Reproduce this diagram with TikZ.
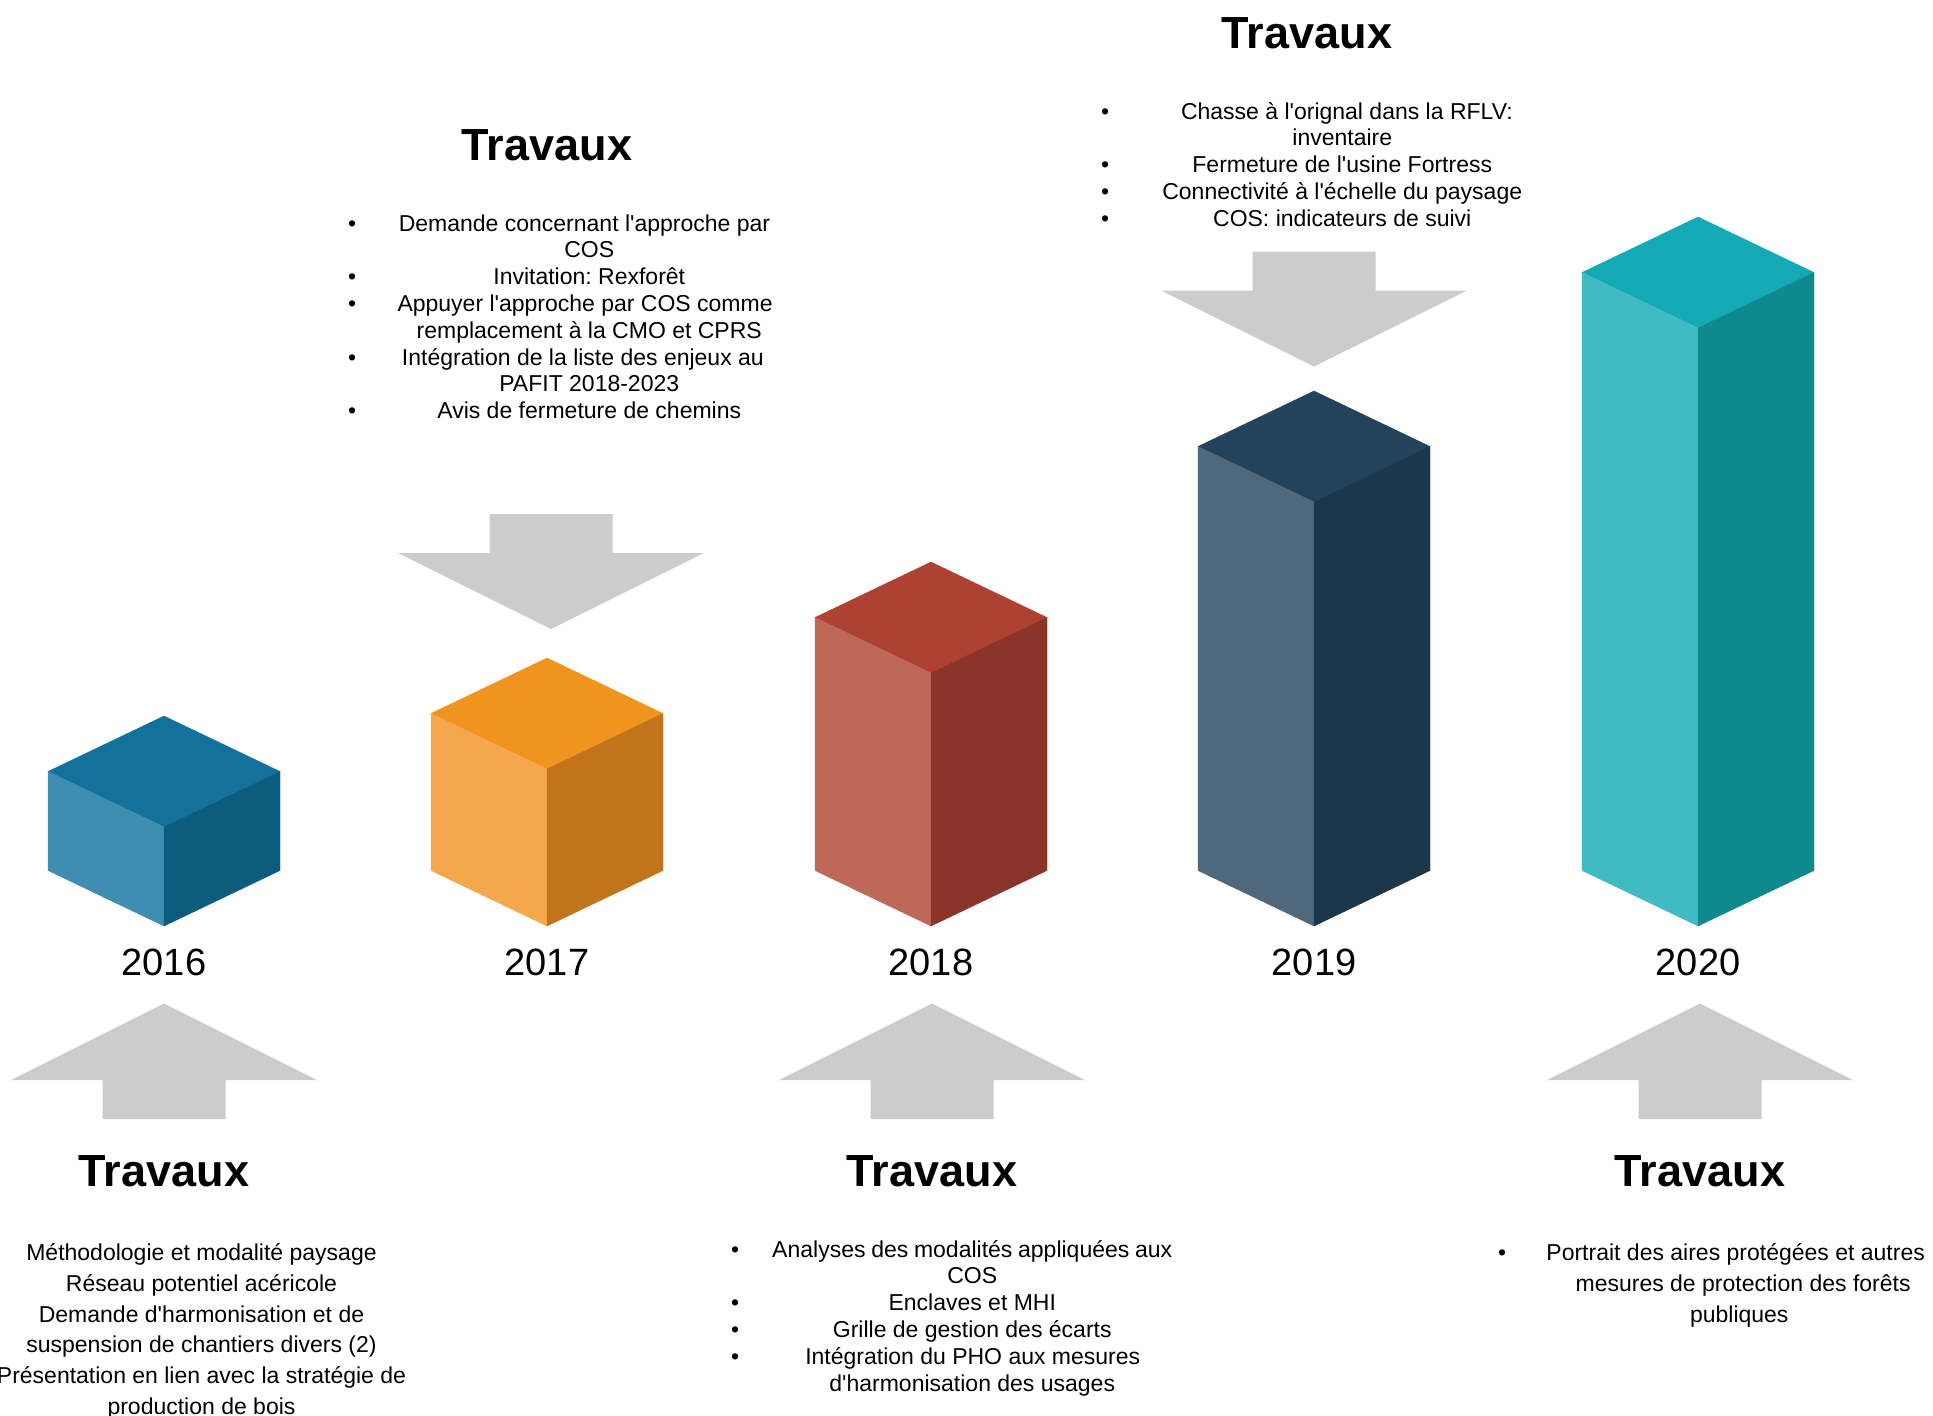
\documentclass[tikz,border=0pt]{standalone}
\usepackage{fontspec}
\setmainfont{Liberation Sans}
\usepackage{array}
\usepackage{xcolor}
\usepackage{tikz}

\definecolor{top2016}{HTML}{12729C}
\definecolor{left2016}{HTML}{3F8DB0}
\definecolor{right2016}{HTML}{0E5C7D}
\definecolor{top2017}{HTML}{F0931F}
\definecolor{left2017}{HTML}{F4A74B}
\definecolor{right2017}{HTML}{C2741A}
\definecolor{top2018}{HTML}{AE4132}
\definecolor{left2018}{HTML}{BE685A}
\definecolor{right2018}{HTML}{8B3429}
\definecolor{top2019}{HTML}{22435B}
\definecolor{left2019}{HTML}{4F687B}
\definecolor{right2019}{HTML}{1E3649}
\definecolor{top2020}{HTML}{14AAB5}
\definecolor{left2020}{HTML}{40BBC3}
\definecolor{right2020}{HTML}{0F898E}
\definecolor{arrowgray}{HTML}{CCCCCC}

\newcolumntype{C}{>{\centering\arraybackslash}p{400pt}}
\newcommand{\apos}{\textquotesingle}
\frenchspacing

\begin{document}
\begin{tikzpicture}[x=1pt, y=-1pt,
    year/.style={font=\fontsize{38}{44}\selectfont, anchor=base, inner sep=0pt},
    title/.style={font=\fontsize{45}{52}\selectfont\bfseries, anchor=base, inner sep=0pt},
    tlist/.style={font=\fontsize{23}{26.8}\selectfont, anchor=base west, inner sep=0pt},
    wlist/.style={font=\fontsize{23}{30.8}\selectfont, anchor=base west, inner sep=0pt},
    garrow/.style={fill=arrowgray}]
    \useasboundingbox[fill=white] (0,0) rectangle (1933,1416);

    % blocks: year / centre / top of the block
    \foreach \yr/\cx/\ty in {2016/164/716, 2017/547/658, 2018/931/562, 2019/1314/391, 2020/1698/217} {
      \filldraw[fill=top\yr, draw=top\yr, line width=0.4pt] (\cx,\ty) -- (\cx+116,\ty+55.5) -- (\cx,\ty+111) -- (\cx-116,\ty+55.5) -- cycle;
      \filldraw[fill=left\yr, draw=left\yr, line width=0.4pt] (\cx-116,\ty+55.5) -- (\cx,\ty+111) -- (\cx,926) -- (\cx-116,870.5) -- cycle;
      \filldraw[fill=right\yr, draw=right\yr, line width=0.4pt] (\cx,\ty+111) -- (\cx+116,\ty+55.5) -- (\cx+116,870.5) -- (\cx,926) -- cycle;
      \node[year] (y\yr) at (\cx,975) {\yr};
    }

    % arrows from above
    \foreach \cx/\ty in {551/514, 1314/251.5}
      \fill[garrow] (\cx-61.5,\ty) -- (\cx+61.5,\ty) -- (\cx+61.5,\ty+39) -- (\cx+153,\ty+39) -- (\cx,\ty+115) -- (\cx-153,\ty+39) -- (\cx-61.5,\ty+39) -- cycle;
    % arrows from below
    \foreach \cx in {164, 932, 1700}
      \fill[garrow] (\cx,1003.5) -- (\cx+153,1080) -- (\cx+61.5,1080) -- (\cx+61.5,1119) -- (\cx-61.5,1119) -- (\cx-61.5,1080) -- (\cx-153,1080) -- cycle;

    \node[title] (t2017) at (547,160) {Travaux};
    \node[title] (t2019) at (1307,48) {Travaux};
    \node[title] (t2016) at (164,1186) {Travaux};
    \node[title] (t2018) at (932,1186) {Travaux};
    \node[title] (t2020) at (1700,1186) {Travaux};

    \node[tlist] (l2017) at (348,231) {\begin{tabular}[t]{@{}l@{\hspace{33pt}}C@{}}
      \textbullet & Demande concernant l\apos approche par\newline COS\\
      \textbullet & Invitation: Rexforêt\\
      \textbullet & Appuyer l\apos approche par COS comme\newline remplacement à la CMO et CPRS\\
      \textbullet & Intégration de la liste des enjeux au\newline PAFIT 2018-2023\\
      \textbullet & Avis de fermeture de chemins
    \end{tabular}};
    \node[tlist] (l2019) at (1101,119) {\begin{tabular}[t]{@{}l@{\hspace{33pt}}C@{}}
      \textbullet & \hspace*{24pt}Chasse à l\apos orignal dans la RFLV:\newline inventaire\\
      \textbullet & Fermeture de l\apos usine Fortress\\
      \textbullet & Connectivité à l\apos échelle du paysage\\
      \textbullet & COS: indicateurs de suivi
    \end{tabular}};
    \node[tlist] (l2018) at (731,1257) {\begin{tabular}[t]{@{}l@{\hspace{33pt}}C@{}}
      \textbullet & Analyses des modalités appliquées aux\newline COS\\
      \textbullet & Enclaves et MHI\\
      \textbullet & Grille de gestion des écarts\\
      \textbullet & \hspace*{17pt}Intégration du PHO aux mesures\newline d\apos harmonisation des usages
    \end{tabular}};
    \node[wlist] (l2020) at (1498,1260.5) {\begin{tabular}[t]{@{}l@{\hspace{33pt}}C@{}}
      \textbullet & Portrait des aires protégées et autres\newline \hspace*{22pt}mesures de protection des forêts\newline publiques
    \end{tabular}};
    \node[wlist, anchor=base] (l2016) at (201.5,1260.5) {\begin{tabular}[t]{@{}c@{}}
      Méthodologie et modalité paysage\\
      Réseau potentiel acéricole\\
      Demande d\apos harmonisation et de\\
      suspension de chantiers divers (2)\\
      Présentation en lien avec la stratégie de\\
      production de bois
    \end{tabular}};
\end{tikzpicture}
\end{document}
